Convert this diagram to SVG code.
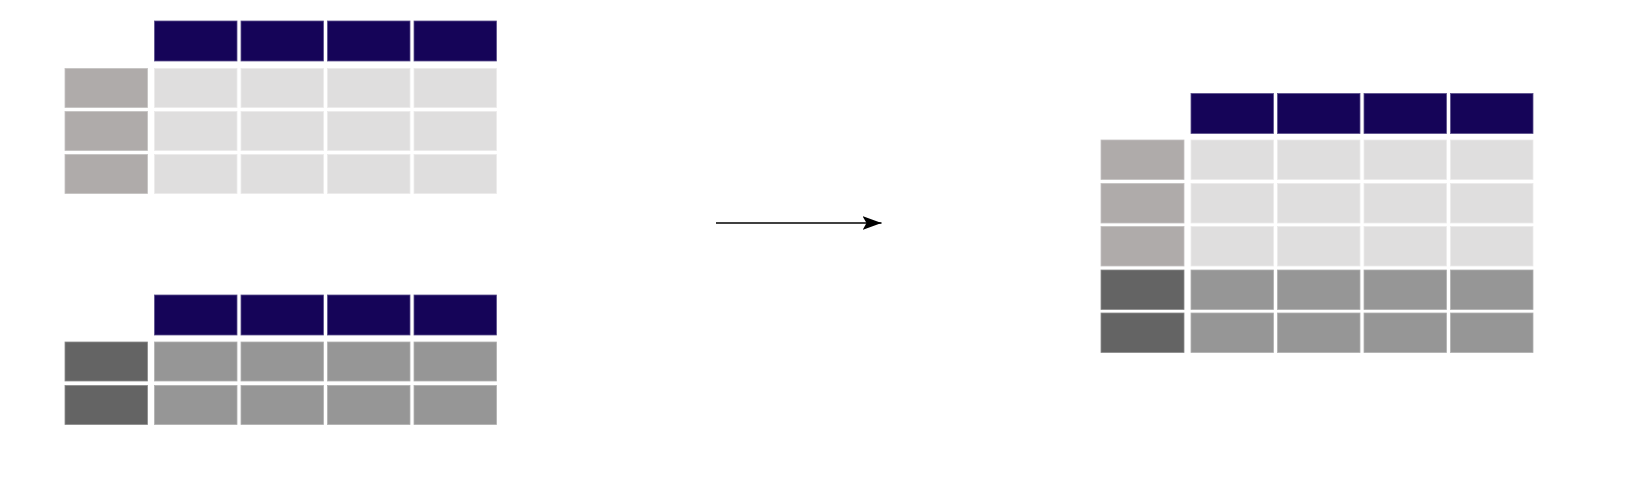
<svg xmlns="http://www.w3.org/2000/svg" width="1628" height="491" viewBox="0 0 1628 491">
<style>
.h{fill:#150458;stroke:#5a4f8c;stroke-width:0.8}
.il{fill:#afabaa;stroke:#c4c1c0;stroke-width:0.8}
.cl{fill:#dfdede;stroke:#ebeaea;stroke-width:0.8}
.id{fill:#646464;stroke:#8a8a8a;stroke-width:0.8}
.cd{fill:#969696;stroke:#b0b0b0;stroke-width:0.8}
.conn{stroke:#000;stroke-width:1.5;fill:none}
</style>
<defs>
<marker id="ah" markerWidth="20" markerHeight="14" refX="19" refY="7" orientation="auto" orient="auto" markerUnits="userSpaceOnUse">
<path d="M0,0 L19,7 L0,14 L4,7 Z" fill="#000"/>
</marker>
</defs>
<rect width="1628" height="491" fill="#fff"/>
<g id="df1">
<rect class="h" x="154.5" y="21" width="82.5" height="40"/>
<rect class="h" x="241" y="21" width="82.5" height="40"/>
<rect class="h" x="327.5" y="21" width="82.5" height="40"/>
<rect class="h" x="414" y="21" width="82.5" height="40"/>
<rect class="il" x="65" y="68.5" width="82.5" height="39"/>
<rect class="il" x="65" y="111.5" width="82.5" height="39"/>
<rect class="il" x="65" y="154.5" width="82.5" height="39"/>
<rect class="cl" x="154.5" y="68.5" width="82.5" height="39"/><rect class="cl" x="241" y="68.5" width="82.5" height="39"/><rect class="cl" x="327.5" y="68.5" width="82.5" height="39"/><rect class="cl" x="414" y="68.5" width="82.5" height="39"/>
<rect class="cl" x="154.5" y="111.5" width="82.5" height="39"/><rect class="cl" x="241" y="111.5" width="82.5" height="39"/><rect class="cl" x="327.5" y="111.5" width="82.5" height="39"/><rect class="cl" x="414" y="111.5" width="82.5" height="39"/>
<rect class="cl" x="154.5" y="154.5" width="82.5" height="39"/><rect class="cl" x="241" y="154.5" width="82.5" height="39"/><rect class="cl" x="327.5" y="154.5" width="82.5" height="39"/><rect class="cl" x="414" y="154.5" width="82.5" height="39"/>
</g>
<g id="df2">
<rect class="h" x="154.5" y="295" width="82.5" height="40"/>
<rect class="h" x="241" y="295" width="82.5" height="40"/>
<rect class="h" x="327.5" y="295" width="82.5" height="40"/>
<rect class="h" x="414" y="295" width="82.5" height="40"/>
<rect class="id" x="65" y="342" width="82.5" height="39"/>
<rect class="id" x="65" y="385.5" width="82.5" height="39"/>
<rect class="cd" x="154.5" y="342" width="82.5" height="39"/><rect class="cd" x="241" y="342" width="82.5" height="39"/><rect class="cd" x="327.5" y="342" width="82.5" height="39"/><rect class="cd" x="414" y="342" width="82.5" height="39"/>
<rect class="cd" x="154.5" y="385.5" width="82.5" height="39"/><rect class="cd" x="241" y="385.5" width="82.5" height="39"/><rect class="cd" x="327.5" y="385.5" width="82.5" height="39"/><rect class="cd" x="414" y="385.5" width="82.5" height="39"/>
</g>
<g id="result">
<rect class="h" x="1191" y="93.5" width="82.5" height="40"/>
<rect class="h" x="1277.5" y="93.5" width="82.5" height="40"/>
<rect class="h" x="1364" y="93.5" width="82.5" height="40"/>
<rect class="h" x="1450.5" y="93.5" width="82.5" height="40"/>
<rect class="il" x="1101" y="140" width="83" height="39.5"/>
<rect class="il" x="1101" y="183.5" width="83" height="39.5"/>
<rect class="il" x="1101" y="226.5" width="83" height="39.5"/>
<rect class="id" x="1101" y="270" width="83" height="39.5"/>
<rect class="id" x="1101" y="313" width="83" height="39.5"/>
<rect class="cl" x="1191" y="140" width="82.5" height="39.5"/><rect class="cl" x="1277.5" y="140" width="82.5" height="39.5"/><rect class="cl" x="1364" y="140" width="82.5" height="39.5"/><rect class="cl" x="1450.5" y="140" width="82.5" height="39.5"/>
<rect class="cl" x="1191" y="183.5" width="82.5" height="39.5"/><rect class="cl" x="1277.5" y="183.5" width="82.5" height="39.5"/><rect class="cl" x="1364" y="183.5" width="82.5" height="39.5"/><rect class="cl" x="1450.5" y="183.5" width="82.5" height="39.5"/>
<rect class="cl" x="1191" y="226.5" width="82.5" height="39.5"/><rect class="cl" x="1277.5" y="226.5" width="82.5" height="39.5"/><rect class="cl" x="1364" y="226.5" width="82.5" height="39.5"/><rect class="cl" x="1450.5" y="226.5" width="82.5" height="39.5"/>
<rect class="cd" x="1191" y="270" width="82.5" height="39.5"/><rect class="cd" x="1277.5" y="270" width="82.5" height="39.5"/><rect class="cd" x="1364" y="270" width="82.5" height="39.5"/><rect class="cd" x="1450.5" y="270" width="82.5" height="39.5"/>
<rect class="cd" x="1191" y="313" width="82.5" height="39.5"/><rect class="cd" x="1277.5" y="313" width="82.5" height="39.5"/><rect class="cd" x="1364" y="313" width="82.5" height="39.5"/><rect class="cd" x="1450.5" y="313" width="82.5" height="39.5"/>
</g>
<g id="connectors">
<line class="conn" x1="716" y1="223" x2="881.5" y2="223" marker-end="url(#ah)"/>
</g>
</svg>
